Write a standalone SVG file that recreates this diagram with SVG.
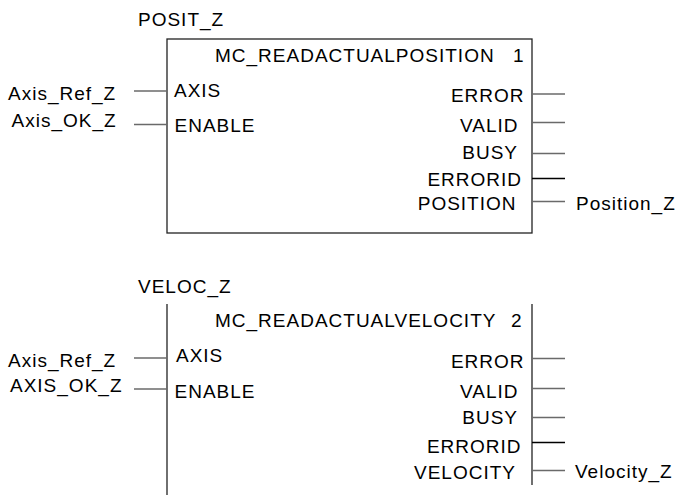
<svg xmlns="http://www.w3.org/2000/svg" width="677" height="495" viewBox="0 0 677 495">
<style>
text{font-family:"Liberation Sans",Arial,sans-serif;font-size:19px;letter-spacing:1px;fill:#000}
.e{text-anchor:end}
.box{fill:none;stroke:#222;stroke-width:1.3}
.w{stroke:#6a6a6a;stroke-width:1.3}
.k{stroke:#000;stroke-width:1.3}
</style>
<rect width="677" height="495" fill="#fff"/>
<g id="posit_z">
<text x="138" y="26">POSIT_Z</text>
<rect class="box" x="167" y="39" width="365" height="194"/>
<text x="215" y="62">MC_READACTUALPOSITION</text>
<text x="513" y="62">1</text>
<text x="174" y="97">AXIS</text>
<text x="174.5" y="132">ENABLE</text>
<text class="e" x="524.5" y="102">ERROR</text>
<text class="e" x="518.5" y="132">VALID</text>
<text class="e" x="518" y="158.5">BUSY</text>
<text class="e" x="522" y="186">ERRORID</text>
<text class="e" x="516.5" y="210">POSITION</text>
</g>
<g id="veloc_z">
<text x="138" y="293">VELOC_Z</text>
<line class="box" x1="167" y1="304" x2="167" y2="495"/>
<line class="box" x1="532" y1="304" x2="532" y2="485"/>
<text x="215" y="327">MC_READACTUALVELOCITY</text>
<text x="511" y="327">2</text>
<text x="176" y="362">AXIS</text>
<text x="174.5" y="398">ENABLE</text>
<text class="e" x="524.5" y="367.5">ERROR</text>
<text class="e" x="518.5" y="397.5">VALID</text>
<text class="e" x="518" y="423.5">BUSY</text>
<text class="e" x="521.5" y="452.5">ERRORID</text>
<text class="e" x="516" y="478.5">VELOCITY</text>
</g>
<g id="labels">
<text x="8" y="99.5">Axis_Ref_Z</text>
<text x="11.5" y="127">Axis_OK_Z</text>
<text x="576" y="210">Position_Z</text>
<text x="8" y="366.5">Axis_Ref_Z</text>
<text x="10" y="392">AXIS_OK_Z</text>
<text x="575" y="478">Velocity_Z</text>
</g>
<g id="connectors">
<line class="w" x1="134" y1="91" x2="167" y2="91"/>
<line class="w" x1="134" y1="124.5" x2="167" y2="124.5"/>
<line class="w" x1="532" y1="94" x2="565" y2="94"/>
<line class="w" x1="532" y1="122.5" x2="565" y2="122.5"/>
<line class="w" x1="532" y1="153.5" x2="565" y2="153.5"/>
<line class="k" x1="532" y1="178.5" x2="565" y2="178.5"/>
<line class="w" x1="532" y1="201.5" x2="565" y2="201.5"/>
<line class="w" x1="134" y1="358" x2="167" y2="358"/>
<line class="w" x1="134" y1="389" x2="167" y2="389"/>
<line class="w" x1="532" y1="358.5" x2="565" y2="358.5"/>
<line class="w" x1="532" y1="388.5" x2="565" y2="388.5"/>
<line class="w" x1="532" y1="417.5" x2="565" y2="417.5"/>
<line class="k" x1="532" y1="442.5" x2="565" y2="442.5"/>
<line class="w" x1="532" y1="470.5" x2="565" y2="470.5"/>
</g>
</svg>
